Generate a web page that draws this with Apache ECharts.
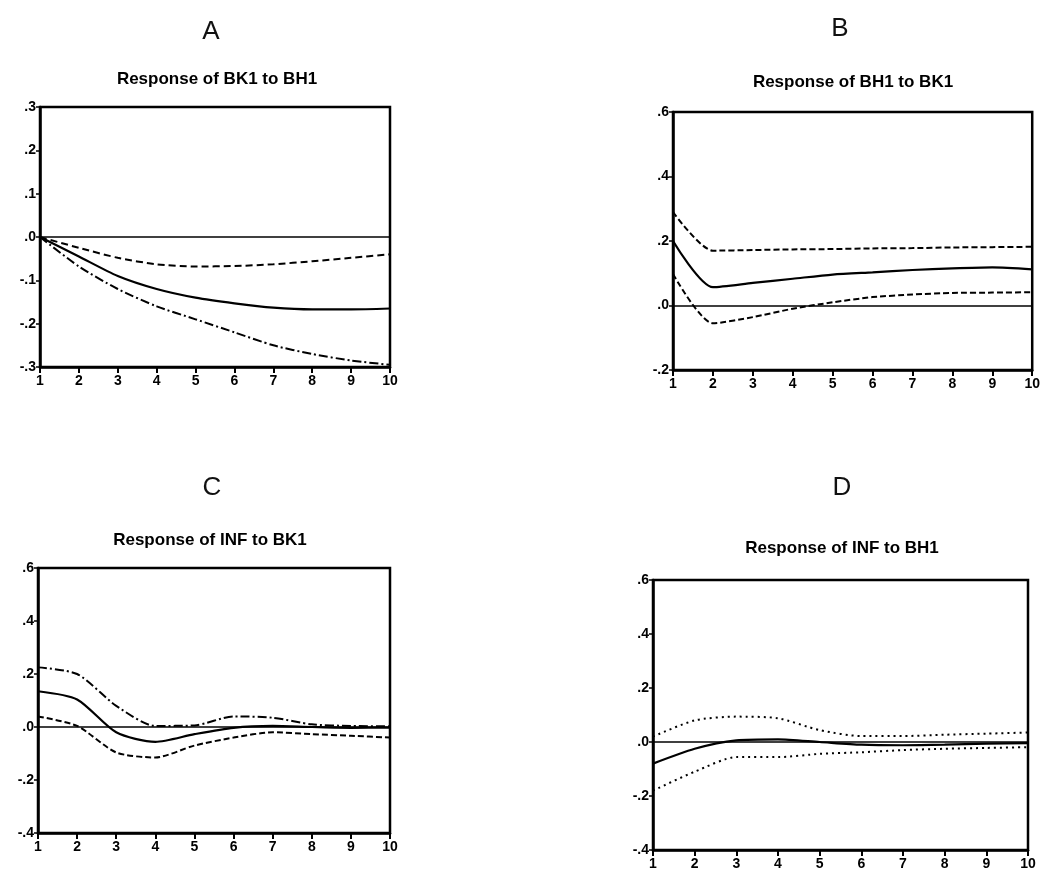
<!DOCTYPE html>
<html>
<head>
<meta charset="utf-8">
<title>Impulse responses</title>
<script src="https://cdn.jsdelivr.net/npm/echarts@6/dist/echarts.min.js"></script>
<style>
  html, body { margin: 0; padding: 0; background: #fff; }
  #chart { width: 1043px; height: 877px; }
</style>
</head>
<body>
<div id="chart"></div>
<script>
// periods on the x axis
const periods = [1, 2, 3, 4, 5, 6, 7, 8, 9, 10];

// A: Response of BK1 to BH1
const respA  = [0, -0.045, -0.09, -0.12, -0.14, -0.153, -0.163, -0.167, -0.167, -0.165];
const upperA = [0, -0.025, -0.048, -0.063, -0.068, -0.067, -0.063, -0.056, -0.048, -0.04];
const lowerA = [0, -0.068, -0.12, -0.16, -0.19, -0.22, -0.25, -0.27, -0.285, -0.295];

// B: Response of BH1 to BK1
const respB  = [0.2, 0.057, 0.07, 0.083, 0.096, 0.103, 0.11, 0.115, 0.118, 0.112];
const upperB = [0.29, 0.17, 0.172, 0.174, 0.175, 0.177, 0.178, 0.18, 0.181, 0.182];
const lowerB = [0.098, -0.055, -0.036, -0.01, 0.01, 0.026, 0.034, 0.039, 0.04, 0.041];

// C: Response of INF to BK1
const respC  = [0.135, 0.104, -0.02, -0.056, -0.027, -0.003, 0.004, 0, -0.003, -0.002];
const upperC = [0.225, 0.2, 0.08, 0.004, 0.006, 0.04, 0.035, 0.01, 0.004, 0.003];
const lowerC = [0.04, 0.004, -0.096, -0.115, -0.07, -0.04, -0.02, -0.027, -0.033, -0.04];

// D: Response of INF to BH1
const respD  = [-0.08, -0.025, 0.006, 0.01, 0, -0.01, -0.012, -0.01, -0.006, -0.004];
const upperD = [0.02, 0.08, 0.094, 0.088, 0.044, 0.022, 0.022, 0.027, 0.031, 0.035];
const lowerD = [-0.18, -0.11, -0.056, -0.056, -0.044, -0.038, -0.03, -0.025, -0.022, -0.019];

const letters = ['A', 'B', 'C', 'D'];
const titles = [
  'Response of BK1 to BH1',
  'Response of BH1 to BK1',
  'Response of INF to BK1',
  'Response of INF to BH1'
];
const yRanges = [[-0.3, 0.3, 0.1], [-0.2, 0.6, 0.2], [-0.4, 0.6, 0.2], [-0.4, 0.6, 0.2]];

const FONT = '"Liberation Sans", Arial, sans-serif';

// plot boxes
const grids = [
  { left: 40,  top: 107, width: 350, height: 260 },
  { left: 673, top: 112, width: 362, height: 258 },
  { left: 38,  top: 568, width: 352, height: 265 },
  { left: 653, top: 580, width: 375, height: 270 }
];
const letterPos = [[211, 32], [840, 29], [212, 488], [842, 488]];
const titlePos  = [[217, 79], [853, 82], [210, 540], [842, 548]];

const panels = [
  { resp: respA, upper: upperA, lower: lowerA, upDash: [7, 4], loDash: [9, 3, 2, 3] },
  { resp: respB, upper: upperB, lower: lowerB, upDash: [6, 3], loDash: [6, 3] },
  { resp: respC, upper: upperC, lower: lowerC, upDash: [9, 3, 2, 3], loDash: [6, 3] },
  { resp: respD, upper: upperD, lower: lowerD, upDash: [2, 4], loDash: [2, 4] }
];

function pairs(arr) {
  return periods.map((p, i) => [p, arr[i]]);
}

// eviews style: .3  -.1  .0
function fmt(v) {
  let s = (Math.round(v * 10) / 10).toFixed(1);
  if (s === '-0.0') s = '0.0';
  return s.replace('0.', '.');
}

const xAxis = [], yAxis = [], series = [], graphic = [];
grids.forEach((g, i) => {
  g.show = true;
  g.borderColor = '#000';
  g.borderWidth = 2.5;
  g.backgroundColor = 'transparent';

  xAxis.push({
    type: 'value', gridIndex: i, min: 1, max: 10, interval: 1,
    splitLine: { show: false },
    axisLine: { onZero: false, lineStyle: { color: '#000', width: 2.5 } },
    axisTick: { length: 6, lineStyle: { color: '#000', width: 2 } },
    axisLabel: { color: '#000', fontFamily: FONT, fontWeight: 'bold', fontSize: 14, margin: 7 }
  });
  yAxis.push({
    type: 'value', gridIndex: i,
    min: yRanges[i][0], max: yRanges[i][1], interval: yRanges[i][2],
    splitLine: { show: false },
    axisLine: { onZero: false, lineStyle: { color: '#000', width: 2.5 } },
    axisTick: { length: 4, lineStyle: { color: '#000', width: 1.5 } },
    axisLabel: { color: '#000', fontFamily: FONT, fontWeight: 'bold', fontSize: 14, margin: 4, formatter: fmt }
  });

  const p = panels[i];
  series.push({
    type: 'line', xAxisIndex: i, yAxisIndex: i, data: pairs(p.resp),
    symbol: 'none', smooth: 0.25, silent: true,
    lineStyle: { color: '#000', width: 2.2 },
    markLine: {
      silent: true, symbol: 'none', label: { show: false },
      lineStyle: { color: '#000', width: 1.6, type: 'solid' },
      data: [{ yAxis: 0 }]
    }
  });
  series.push({
    type: 'line', xAxisIndex: i, yAxisIndex: i, data: pairs(p.upper),
    symbol: 'none', smooth: 0.25, silent: true,
    lineStyle: { color: '#000', width: 2, type: p.upDash }
  });
  series.push({
    type: 'line', xAxisIndex: i, yAxisIndex: i, data: pairs(p.lower),
    symbol: 'none', smooth: 0.25, silent: true,
    lineStyle: { color: '#000', width: 2, type: p.loDash }
  });

  graphic.push({
    type: 'text', x: letterPos[i][0], y: letterPos[i][1], silent: true,
    style: { text: letters[i], fill: '#111', font: '26px ' + FONT, align: 'center', verticalAlign: 'middle' }
  });
  graphic.push({
    type: 'text', x: titlePos[i][0], y: titlePos[i][1], silent: true,
    style: { text: titles[i], fill: '#000', font: 'bold 17px ' + FONT, align: 'center', verticalAlign: 'middle' }
  });
});

const myChart = echarts.init(document.getElementById('chart'));
myChart.setOption({
  backgroundColor: '#fff',
  animation: false,
  grid: grids,
  xAxis: xAxis,
  yAxis: yAxis,
  series: series,
  graphic: graphic
});
</script>
</body>
</html>
